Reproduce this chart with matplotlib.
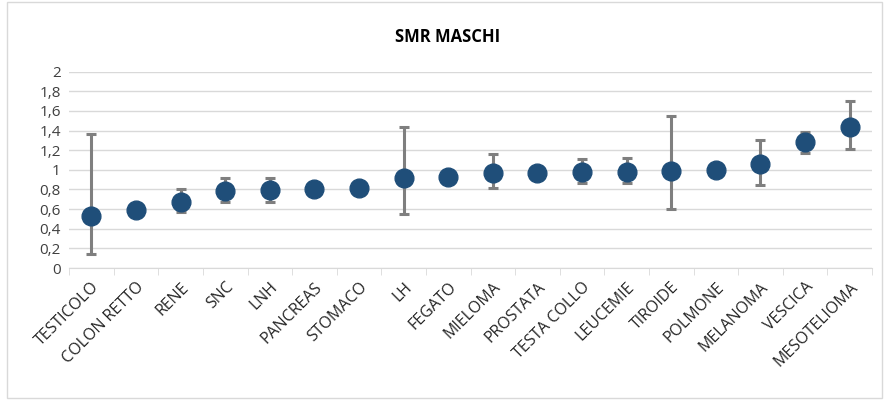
import matplotlib.pyplot as plt
import numpy as np
from matplotlib.patches import Rectangle

plt.rcParams['font.family'] = ['Open Sans', 'DejaVu Sans']

sedi = ["TESTICOLO", "COLON RETTO", "RENE", "SNC", "LNH", "PANCREAS", "STOMACO",
        "LH", "FEGATO", "MIELOMA", "PROSTATA", "TESTA COLLO", "LEUCEMIE", "TIROIDE",
        "POLMONE", "MELANOMA", "VESCICA", "MESOTELIOMA"]
smr = [0.53, 0.59, 0.67, 0.78, 0.79, 0.80, 0.81, 0.92, 0.93, 0.97, 0.97, 0.98,
       0.98, 0.99, 1.00, 1.06, 1.28, 1.44]
ic_inf = [0.14, 0.56, 0.57, 0.67, 0.67, 0.76, 0.77, 0.55, 0.89, 0.81, 0.94, 0.87,
          0.87, 0.60, 0.97, 0.85, 1.17, 1.21]
ic_sup = [1.36, 0.62, 0.80, 0.92, 0.92, 0.84, 0.85, 1.44, 0.98, 1.16, 1.01, 1.11,
          1.12, 1.55, 1.03, 1.30, 1.39, 1.70]

fig = plt.figure(figsize=(8.87, 4.0), dpi=100)
fig.patches.append(Rectangle((0.008, 0.005), 0.986, 0.99, transform=fig.transFigure,
                             fill=False, edgecolor='#d9d9d9', linewidth=1))
ax = fig.add_axes([0.078, 0.33, 0.905, 0.491])

x = np.arange(len(sedi))
y = np.array(smr)
err = [y - np.array(ic_inf), np.array(ic_sup) - y]
ax.errorbar(x, y, yerr=err, fmt='none', ecolor='#7f7f7f', elinewidth=2.2,
            capsize=3.5, capthick=2.2, zorder=2)
ax.plot(x, y, 'o', color='#1f4e79', markersize=13.5, markeredgecolor='#1f4e79', zorder=3)

ax.set_ylim(0, 2)
ax.set_xlim(-0.5, len(sedi) - 0.5)
ax.set_yticks(np.arange(0, 2.01, 0.2))
ax.set_yticklabels([f"{v:.1f}".replace('.', ',').replace(',0', '') if v != 0 else "0"
                    for v in np.arange(0, 2.01, 0.2)], fontsize=11, color='#404040')
ax.grid(axis='y', color='#d9d9d9', linewidth=1)
ax.set_axisbelow(True)
for s in ['left', 'right', 'top']:
    ax.spines[s].set_visible(False)
ax.spines['bottom'].set_color('#d9d9d9')
ax.tick_params(axis='y', length=0, pad=6)

ax.set_xticks(x)
ax.set_xticklabels(sedi, rotation=45, ha='right', rotation_mode='anchor',
                   fontsize=11.5, color='#262626')
ax.tick_params(axis='x', length=0, pad=8)
ax.set_xticks(np.arange(-0.5, len(sedi), 1), minor=True)
ax.tick_params(axis='x', which='minor', length=5, color='#d9d9d9')

fig.text(0.505, 0.907, "SMR MASCHI", ha='center', va='center', fontsize=12,
         fontweight='bold', color='#000000')

fig.savefig("out.png", dpi=100)
